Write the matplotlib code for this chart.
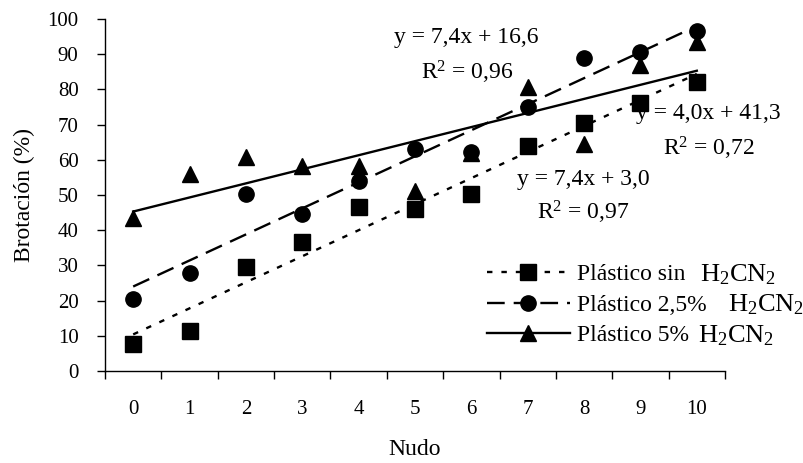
import matplotlib

matplotlib.use("Agg")
import matplotlib.pyplot as plt
import numpy as np

plt.rcParams["font.family"] = ["Liberation Serif", "DejaVu Serif"]
plt.rcParams["mathtext.fontset"] = "custom"
plt.rcParams["mathtext.rm"] = "Liberation Serif"
plt.rcParams["mathtext.it"] = "Liberation Serif:italic"

# categories on the x axis (nudo)
nudo = [0, 1, 2, 3, 4, 5, 6, 7, 8, 9, 10]

# brotacion (%) per treatment
sin_h2cn2 = [7.7, 11.4, 29.6, 36.6, 46.5, 46.1, 50.2, 64.0, 70.5, 76.0, 82.2]
h2cn2_25 = [20.4, 27.9, 50.2, 44.6, 54.0, 63.0, 62.3, 74.9, 88.8, 90.7, 96.6]
h2cn2_5 = [43.4, 56.1, 60.7, 58.3, 58.3, 51.2, 62.0, 80.6, 64.5, 86.9, 93.5]

# trend lines as reported on the chart (Excel x = 1..11)
slopes = [7.4, 7.4, 4.0]
intercepts = [3.0, 16.6, 41.3]
r2 = ["0,97", "0,96", "0,72"]

labels = ["Plástico sin", "Plástico 2,5%", "Plástico 5%"]
series = [sin_h2cn2, h2cn2_25, h2cn2_5]
markers = ["s", "o", "^"]
styles = [(0, (2.3, 3.8)), (0, (7.5, 3.8)), "-"]

W, H = 804, 463
fig = plt.figure(figsize=(W / 100, H / 100), dpi=100)
ax = fig.add_axes([105 / W, 1 - 371 / H, 620 / W, 352 / H])

x = np.array(nudo)
handles = []
for vals, m, ls, a, b in zip(series, markers, styles, slopes, intercepts):
    ax.plot(x, vals, linestyle="none", marker=m, color="black",
            markersize=11, zorder=3)
    fit = a * (x + 1) + b
    ax.plot(x, fit, linestyle=ls, color="black", lw=1.7, zorder=2)
    h, = ax.plot([], [], linestyle=ls, color="black", lw=1.7, marker=m,
                 markersize=11)
    handles.append(h)


def eq(a, b):
    return f"y = {a:.1f}x + {b:.1f}".replace(".", ",")


def put(px, py, s, size=17, ha="center"):
    fig.text(px / W, 1 - py / H, s, fontsize=size, ha=ha, va="baseline")


# equation labels (pixel centre x, baseline y)
put(466, 43, eq(slopes[1], intercepts[1]))
put(467, 80, "R$^2$ = " + r2[1])
put(708, 119, eq(slopes[2], intercepts[2]))
put(709, 155, "R$^2$ = " + r2[2])
put(583, 185, eq(slopes[0], intercepts[0]))
put(583, 220, "R$^2$ = " + r2[0])

leg = ax.legend(handles, labels, loc="center left",
                bbox_to_anchor=(487 / W, 1 - 305 / H),
                bbox_transform=fig.transFigure, frameon=False, fontsize=17,
                handlelength=3.5, handletextpad=0.3, labelspacing=0.38,
                borderpad=0, borderaxespad=0)

ax.set_xlim(-0.5, 10.5)
ax.set_ylim(0, 100)
ax.set_yticks(np.arange(0, 101, 10))
ax.set_xticks(x)
ax.set_xticks(np.arange(-0.5, 10.6, 1), minor=True)
ax.tick_params(axis="x", which="major", length=0, pad=21, labelsize=15)
ax.tick_params(axis="x", which="minor", length=6, width=1, direction="out")
ax.tick_params(axis="y", length=6, width=1, direction="out", labelsize=15,
               pad=13)
for side in ("top", "right"):
    ax.spines[side].set_visible(False)
for side in ("left", "bottom"):
    ax.spines[side].set_linewidth(1.0)
ax.set_xlabel("Nudo", fontsize=17, labelpad=14)
ax.set_ylabel("Brotación (%)", fontsize=17, labelpad=9)

# chemical formula after each legend entry, on the same baseline
fig.canvas.draw()
formula_x = [700, 728, 698]
for t, fx in zip(leg.get_texts(), formula_x):
    bx, by = t.get_transform().transform(t.get_position())
    fig.text(fx / W, (by - 1) / H, r"H$_2$CN$_2$", fontsize=19,
             ha="left", va="baseline")

fig.savefig("out.png", dpi=100)
